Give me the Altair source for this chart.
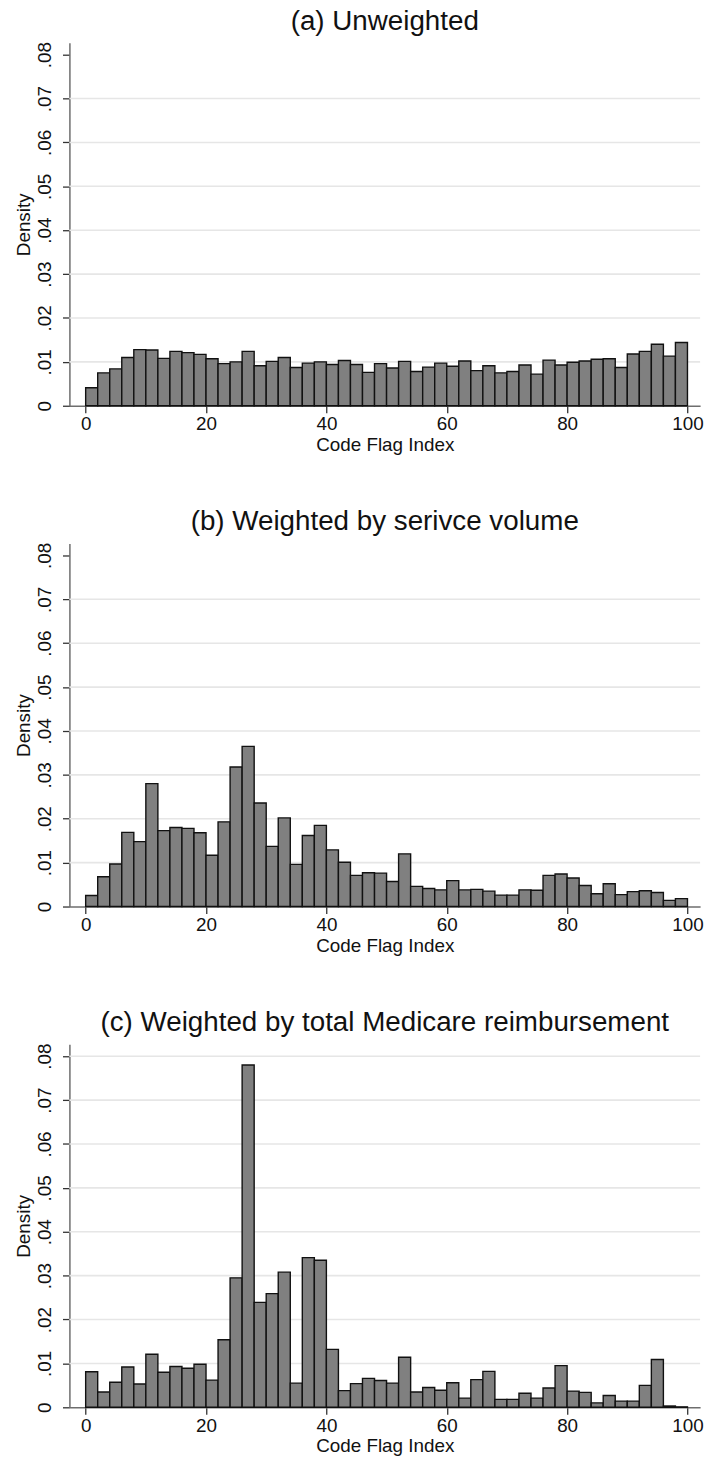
import altair as alt
import pandas as pd

# Histogram bins: width 2 on the Code Flag Index (0-100)
bin_width = 2
bin_left = list(range(0, 100, bin_width))

# Densities per bin
unweighted = [
    0.0041, 0.0075, 0.0084, 0.0110, 0.0128, 0.0127, 0.0108, 0.0124, 0.0121, 0.0117,
    0.0107, 0.0096, 0.0100, 0.0124, 0.0091, 0.0101, 0.0110, 0.0087, 0.0097, 0.0100,
    0.0094, 0.0103, 0.0094, 0.0076, 0.0096, 0.0086, 0.0101, 0.0078, 0.0088, 0.0097,
    0.0090, 0.0102, 0.0080, 0.0091, 0.0075, 0.0078, 0.0093, 0.0072, 0.0104, 0.0093,
    0.0099, 0.0102, 0.0106, 0.0107, 0.0087, 0.0118, 0.0124, 0.0140, 0.0113, 0.0144,
]
by_volume = [
    0.0025, 0.0068, 0.0097, 0.0169, 0.0148, 0.0280, 0.0173, 0.0180, 0.0178, 0.0168,
    0.0117, 0.0193, 0.0318, 0.0365, 0.0236, 0.0137, 0.0202, 0.0096, 0.0162, 0.0185,
    0.0129, 0.0101, 0.0071, 0.0077, 0.0076, 0.0057, 0.0120, 0.0046, 0.0041, 0.0038,
    0.0059, 0.0038, 0.0039, 0.0035, 0.0026, 0.0026, 0.0038, 0.0037, 0.0071, 0.0074,
    0.0065, 0.0048, 0.0029, 0.0052, 0.0027, 0.0034, 0.0036, 0.0032, 0.0014, 0.0018,
]
by_reimbursement = [
    0.0081, 0.0035, 0.0057, 0.0092, 0.0053, 0.0121, 0.0080, 0.0093, 0.0089, 0.0098,
    0.0062, 0.0154, 0.0295, 0.0780, 0.0239, 0.0259, 0.0308, 0.0055, 0.0341, 0.0335,
    0.0132, 0.0038, 0.0054, 0.0066, 0.0061, 0.0055, 0.0114, 0.0035, 0.0045, 0.0039,
    0.0056, 0.0021, 0.0063, 0.0082, 0.0018, 0.0018, 0.0032, 0.0021, 0.0044, 0.0095,
    0.0037, 0.0034, 0.0010, 0.0027, 0.0014, 0.0014, 0.0050, 0.0109, 0.0003, 0.0001,
]

panel_titles = [
    "(a) Unweighted",
    "(b) Weighted by serivce volume",
    "(c) Weighted by total Medicare reimbursement",
]
panel_series = [unweighted, by_volume, by_reimbursement]
panel_grids = [
    [0.01, 0.02, 0.03, 0.04, 0.05, 0.06, 0.07],
    [0.01, 0.02, 0.03, 0.04, 0.05, 0.06, 0.07],
    [0.01, 0.02, 0.03, 0.04, 0.05, 0.06, 0.07, 0.08],
]

x_ticks = [0, 20, 40, 60, 80, 100]
y_ticks = [0, 0.01, 0.02, 0.03, 0.04, 0.05, 0.06, 0.07, 0.08]

FONT = "Liberation Sans"
W, H = 636, 366

x_scale = alt.Scale(domain=[-2.7, 102.1], nice=False, zero=False)
y_scale = alt.Scale(domain=[0, 0.0827], nice=False, zero=False)

y_axis = alt.Axis(
    values=y_ticks,
    title="Density",
    grid=False,
    tickSize=7,
    labelAngle=270,
    labelAlign="center",
    labelBaseline="bottom",
    labelPadding=8,
    labelExpr="datum.value == 0 ? '0' : replace(format(datum.value, '.2f'), /^0/, '')",
    titlePadding=2,
)
x_axis = alt.Axis(
    values=x_ticks,
    title="Code Flag Index",
    grid=False,
    tickSize=7,
    labelPadding=2,
    titlePadding=2,
)


def panel(title, values, grid_values):
    bars_df = pd.DataFrame({
        "start": bin_left,
        "end": [b + bin_width for b in bin_left],
        "base": [0.0] * len(bin_left),
        "density": values,
    })
    grid_df = pd.DataFrame({"density": grid_values})

    grid = alt.Chart(grid_df).mark_rule(color="#e6e6e6", strokeWidth=1.6).encode(
        y=alt.Y("density:Q", scale=y_scale, axis=y_axis),
        x=alt.value(0),
        x2=alt.value(W),
    )

    bars = alt.Chart(bars_df).mark_bar(
        color="#808080", stroke="#111111", strokeWidth=1.4
    ).encode(
        x=alt.X("start:Q", scale=x_scale, axis=x_axis),
        x2="end:Q",
        y=alt.Y("density:Q", scale=y_scale, axis=y_axis),
        y2="base:Q",
    )

    return alt.layer(grid, bars).properties(
        width=W,
        height=H,
        title=alt.TitleParams(title, fontSize=28, font=FONT, fontWeight="normal",
                              color="#111111", anchor="middle", offset=6),
    )


chart = alt.vconcat(
    *[panel(t, v, g) for t, v, g in zip(panel_titles, panel_series, panel_grids)],
    spacing=54,
).properties(
    padding={"left": 14, "top": 1, "right": 8, "bottom": 2},
    background="white",
).configure_view(
    strokeWidth=0
).configure_axis(
    labelFont=FONT,
    titleFont=FONT,
    labelFontSize=19,
    titleFontSize=19,
    titleFontWeight="normal",
    labelColor="#111111",
    titleColor="#111111",
    domainColor="#6e6e6e",
    domainWidth=1.5,
    tickColor="#333333",
    tickWidth=1.3,
)

chart.save("out.html", embed_options={"renderer": "svg", "actions": False})
